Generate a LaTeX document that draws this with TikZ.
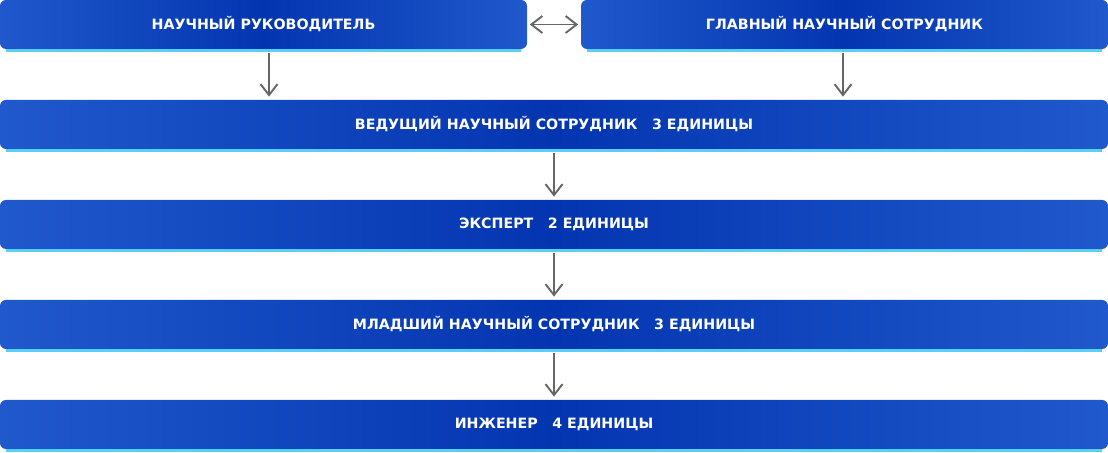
\documentclass[tikz,border=0pt]{standalone}
\usepackage{fontspec}
\setmainfont{DejaVu Sans}
\usetikzlibrary{arrows.meta}
\definecolor{boxside}{HTML}{2059CC}
\definecolor{boxmid}{HTML}{0335B0}
\definecolor{glowline}{HTML}{3CC6F5}
\definecolor{arrowgray}{HTML}{666666}
\newcommand\unitgap{\hspace{2.9mm}}
\begin{document}
\begin{tikzpicture}[x=0.2mm, y=-0.2mm, font=\bfseries\fontsize{8.1}{10}\selectfont,
  box/.style={rounded corners=1.2mm, left color=boxside, right color=boxside, middle color=boxmid,
    text=white, minimum height=9.8mm, inner sep=0pt},
  glow/.style={draw=glowline!85!white, line width=0.45mm},
  link/.style={draw=arrowgray, line width=0.38mm, -{Straight Barb[length=2.2mm, width=3.4mm]}}]
\useasboundingbox (0,0) rectangle (1108,453);
% Top row
\node[box, minimum width=105.4mm] (lead) at (263.5,24.5) {НАУЧНЫЙ РУКОВОДИТЕЛЬ};
\node[box, minimum width=105.4mm] (chief) at (844.5,24.5) {ГЛАВНЫЙ НАУЧНЫЙ СОТРУДНИК};
% Levels
\foreach \i/\y/\txt in {1/124.5/{ВЕДУЩИЙ НАУЧНЫЙ СОТРУДНИК\unitgap 3 ЕДИНИЦЫ},
                        2/224.5/{ЭКСПЕРТ\unitgap 2 ЕДИНИЦЫ},
                        3/324.5/{МЛАДШИЙ НАУЧНЫЙ СОТРУДНИК\unitgap 3 ЕДИНИЦЫ},
                        4/424.5/{ИНЖЕНЕР\unitgap 4 ЕДИНИЦЫ}} {
  \node[box, minimum width=221.6mm] (lvl\i) at (554,\y) {\txt};
}
% Glow under boxes
\foreach \n in {lead,chief,lvl1,lvl2,lvl3,lvl4} {
  \draw[glow] ([xshift=1.2mm,yshift=-0.25mm]\n.south west) -- ([xshift=-1.2mm,yshift=-0.25mm]\n.south east);
}
% Links
\draw[link, {Straight Barb[length=2.2mm, width=3.4mm]}-{Straight Barb[length=2.2mm, width=3.4mm]},
  shorten <=0.5mm, shorten >=0.5mm] (lead.east) -- (chief.west);
\draw[link, shorten <=0.8mm, shorten >=0.6mm] ([xshift=1.1mm]lead.south) -- ([xshift=1.1mm]lead.south |- lvl1.north);
\draw[link, shorten <=0.8mm, shorten >=0.6mm] ([xshift=-0.3mm]chief.south) -- ([xshift=-0.3mm]chief.south |- lvl1.north);
\foreach \a/\b in {lvl1/lvl2,lvl2/lvl3,lvl3/lvl4} {
  \draw[link, shorten <=0.8mm, shorten >=0.6mm] (\a.south) -- (\b.north);
}
\end{tikzpicture}
\end{document}
